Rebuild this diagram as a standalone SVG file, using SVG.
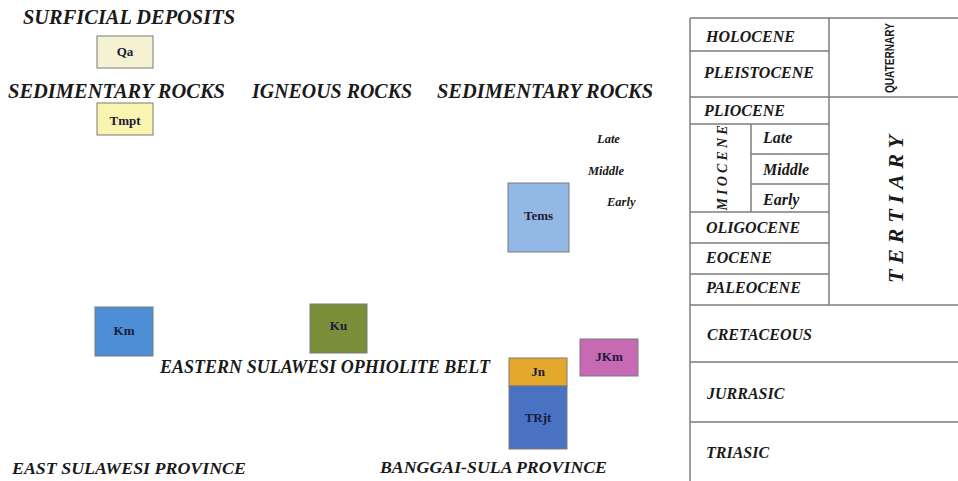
<svg xmlns="http://www.w3.org/2000/svg" width="958" height="481" viewBox="0 0 958 481">
<style>
.h{font-family:"Liberation Serif","Times New Roman",serif;font-weight:bold;font-style:italic;fill:#1a1a1a}
.t{font-family:"Liberation Serif","Times New Roman",serif;font-weight:bold;font-style:italic;font-size:16px;fill:#1a1a1a}
.s{font-family:"Liberation Serif","Times New Roman",serif;font-weight:bold;font-style:italic;font-size:12.5px;fill:#1a1a1a}
.lb{font-family:"Liberation Serif","Times New Roman",serif;font-weight:bold;font-size:13px;fill:#1c1c3a;text-anchor:middle}
.bx{stroke:#7a7a7a;stroke-width:1}
.ln{stroke:#7d7d7d;stroke-width:1.5;fill:none}
</style>
<rect width="958" height="481" fill="#ffffff"/>

<!-- headings -->
<text class="h" x="23" y="24" font-size="20" textLength="212" lengthAdjust="spacingAndGlyphs">SURFICIAL DEPOSITS</text>
<text class="h" x="8" y="98" font-size="20" textLength="217" lengthAdjust="spacingAndGlyphs">SEDIMENTARY ROCKS</text>
<text class="h" x="252" y="98" font-size="20" textLength="160" lengthAdjust="spacingAndGlyphs">IGNEOUS ROCKS</text>
<text class="h" x="437" y="98" font-size="20" textLength="216" lengthAdjust="spacingAndGlyphs">SEDIMENTARY ROCKS</text>
<text class="s" x="597" y="143">Late</text>
<text class="s" x="588" y="175">Middle</text>
<text class="s" x="607" y="206">Early</text>
<text class="h" x="160" y="373" font-size="18" textLength="330" lengthAdjust="spacingAndGlyphs">EASTERN SULAWESI OPHIOLITE BELT</text>
<text class="h" x="12" y="474" font-size="17" textLength="234" lengthAdjust="spacingAndGlyphs">EAST SULAWESI PROVINCE</text>
<text class="h" x="380" y="473" font-size="17" textLength="227" lengthAdjust="spacingAndGlyphs">BANGGAI-SULA PROVINCE</text>

<!-- rock unit boxes -->
<g id="Qa"><rect class="bx" x="97" y="36" width="56" height="32" fill="#f4f2d3"/><text class="lb" x="125" y="56">Qa</text></g>
<g id="Tmpt"><rect class="bx" x="97" y="103" width="56" height="32" fill="#f9f4b0"/><text class="lb" x="125" y="125">Tmpt</text></g>
<g id="Tems"><rect class="bx" x="508" y="183" width="61" height="69" fill="#93b8e4"/><text class="lb" x="538.5" y="220">Tems</text></g>
<g id="Km"><rect class="bx" x="95" y="307" width="58" height="49" fill="#4d8ed6"/><text class="lb" x="124" y="335">Km</text></g>
<g id="Ku"><rect class="bx" x="310" y="304" width="57" height="49" fill="#7b8f3a"/><text class="lb" x="338.5" y="330">Ku</text></g>
<g id="JKm"><rect class="bx" x="580" y="339" width="58" height="37" fill="#c869b4"/><text class="lb" x="609" y="361">JKm</text></g>
<g id="Jn"><rect class="bx" x="509" y="358" width="58" height="28" fill="#e4a82c"/><text class="lb" x="538" y="376">Jn</text></g>
<g id="TRjt"><rect class="bx" x="509" y="386" width="58" height="63" fill="#4a72c3"/><text class="lb" x="538" y="422">TRjt</text></g>

<!-- time scale table -->
<g id="timescale">
<path class="ln" d="M690 18V481M690 18H958M829 18V305M690 51H829M690 97H958M690 124H829M751 124V212M751 154H829M751 184H829M690 212H829M690 243H829M690 274H829M690 305H958M690 362H958M690 422H958"/>
<text class="t" x="706" y="42">HOLOCENE</text>
<text class="t" x="704" y="78">PLEISTOCENE</text>
<text class="t" x="704" y="116">PLIOCENE</text>
<text class="t" x="763" y="143">Late</text>
<text class="t" x="763" y="175">Middle</text>
<text class="t" x="763" y="205">Early</text>
<text class="t" x="706" y="233">OLIGOCENE</text>
<text class="t" x="706" y="263">EOCENE</text>
<text class="t" x="706" y="293">PALEOCENE</text>
<text class="t" x="707" y="340">CRETACEOUS</text>
<text class="t" x="707" y="399">JURRASIC</text>
<text class="t" x="706" y="458">TRIASIC</text>
<text class="h" font-size="14" text-anchor="middle" transform="translate(727,168) rotate(-90)" textLength="85" lengthAdjust="spacing">MIOCENE</text>
<text font-family="'Liberation Sans Narrow','Liberation Sans',Arial,sans-serif" font-weight="bold" font-size="12.5" fill="#1a1a1a" text-anchor="middle" transform="translate(894,58) rotate(-90)" textLength="70" lengthAdjust="spacingAndGlyphs">QUATERNARY</text>
<text class="h" font-size="22" text-anchor="middle" transform="translate(903,209) rotate(-90)" textLength="148" lengthAdjust="spacing">TERTIARY</text>
</g>
</svg>
